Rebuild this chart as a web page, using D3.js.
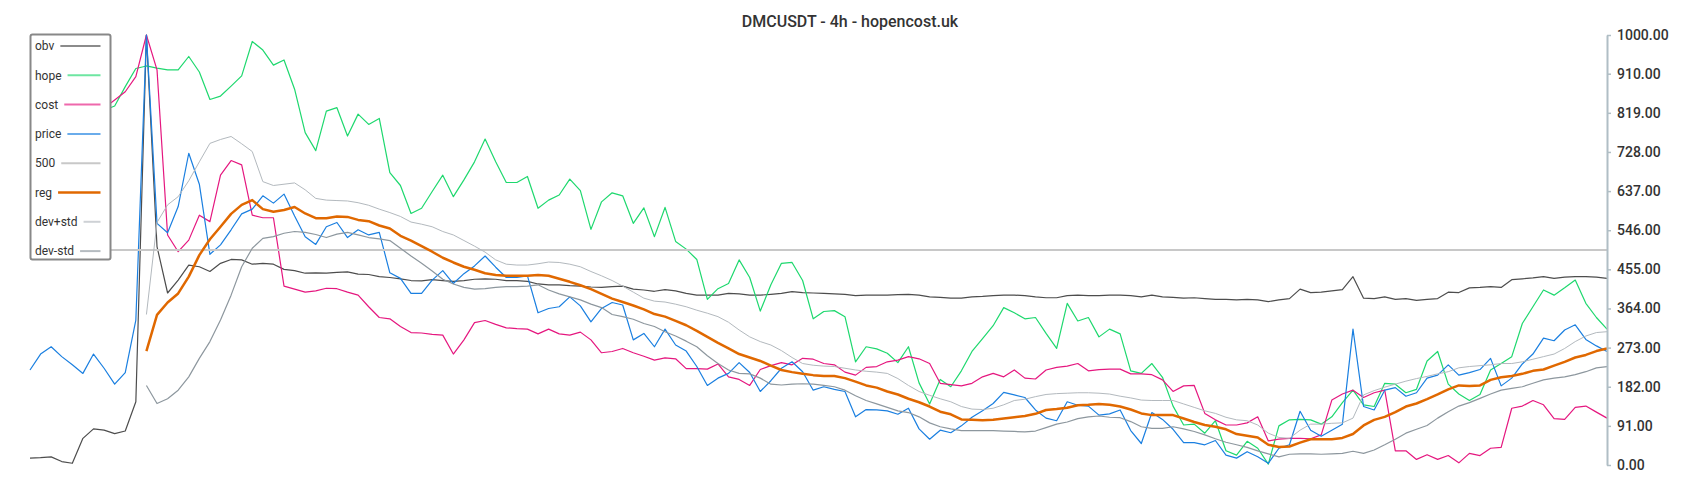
<!DOCTYPE html>
<html lang="en">
<head>
<meta charset="UTF-8">
<title>DMCUSDT - 4h - hopencost.uk</title>
<script src="https://cdn.jsdelivr.net/npm/d3@7/dist/d3.min.js"></script>
<style>
    body { margin: 0; background: #fff; }
    svg text { font-family: Roboto, "Noto Sans", sans-serif; fill: #333; }
</style>
</head>
<body>
<script>

    // ---- data (150 samples, 4h candles) ----
    const obv = [16, 17, 19, 8, 4, 62, 84, 81, 73, 79, 147, 1000, 508, 400, 430, 465, 461, 450, 469, 478, 477, 467, 469, 467, 455,
        452, 446, 447, 446, 448, 449, 444, 443, 438, 436, 433, 429, 428, 431, 429, 427, 429, 432, 433, 432, 429, 429, 427, 421,
        419, 419, 417, 416, 414, 413, 415, 416, 409, 407, 404, 408, 405, 399, 395, 395, 395, 399, 398, 395, 395, 397, 399, 403, 401,
        400, 399, 398, 397, 394, 395, 395, 395, 396, 397, 395, 391, 390, 388, 388, 391, 392, 394, 395, 395, 394, 391, 389, 389,
        394, 395, 394, 394, 395, 395, 394, 391, 395, 391, 390, 388, 389, 387, 385, 385, 384, 385, 384, 380, 384, 387, 409, 401, 402,
        405, 408, 438, 388, 387, 391, 385, 387, 383, 385, 387, 402, 401, 412, 413, 415, 413, 431, 433, 435, 438, 434, 437, 438, 438, 437, 434];

    const hope = [800, 805, 810, 815, 815, 820, 820, 825,
        835, 880, 922, 928, 923, 919, 919, 950, 914, 850, 858, 881, 905, 985, 965, 930, 942,
        874, 773, 731, 823, 831, 765, 816, 792, 806, 680, 650, 585, 597, 636, 674, 624, 663, 705, 758, 705, 657, 657, 671, 597,
        616, 628, 665, 638, 548, 612, 633, 626, 562, 598, 531, 599, 520, 502, 478, 385, 410, 422, 477, 436, 358, 419, 469, 471, 429,
        340, 357, 359, 345, 240, 275, 270, 260, 238, 275, 191, 142, 199, 182, 219, 264, 294, 324, 366, 354, 340, 343, 306, 271,
        376, 335, 343, 298, 316, 305, 219, 213, 236, 204, 137, 93, 95, 74, 103, 33, 23, 55, 39, 2, 91, 105, 106, 105, 95,
        112, 145, 174, 140, 136, 190, 188, 168, 176, 242, 264, 188, 165, 150, 164, 221, 236, 252, 329, 368, 407, 395, 412, 430, 376, 343, 316];

    const cost = [800, 805, 810, 815, 815, 820, 825, 830,
        849, 868, 903, 1000, 919, 535, 496, 523, 581, 566, 674, 708, 698, 581, 575, 575, 416,
        409, 402, 405, 411, 410, 402, 395, 368, 343, 340, 322, 308, 307, 304, 302, 258, 291, 331, 336, 327, 319, 317, 316, 305,
        316, 305, 302, 309, 291, 261, 264, 271, 261, 253, 244, 249, 247, 224, 224, 223, 235, 205, 199, 185, 222, 231, 238, 233, 248,
        246, 236, 233, 216, 209, 227, 229, 240, 244, 252, 247, 236, 190, 187, 184, 190, 205, 213, 205, 221, 202, 200, 221, 227,
        230, 236, 219, 222, 223, 223, 212, 212, 210, 198, 171, 184, 185, 120, 105, 93, 93, 98, 112, 56, 60, 62, 62, 61, 70,
        151, 165, 174, 157, 168, 174, 33, 33, 13, 24, 13, 22, 5, 27, 22, 39, 41, 132, 137, 150, 140, 108, 106, 134, 137, 123, 109];

    const price = [221, 258, 275, 252, 233, 213, 258, 225, 188, 215, 337, 1000, 562, 540, 601, 725, 653, 490, 512, 547, 584, 595, 626, 609, 630,
        579, 531, 513, 554, 564, 529, 547, 535, 541, 447, 434, 399, 399, 430, 452, 422, 445, 463, 486, 460, 436, 436, 440, 354,
        364, 368, 391, 370, 333, 364, 378, 372, 291, 306, 275, 316, 279, 265, 229, 185, 202, 213, 238, 215, 171, 196, 225, 240, 217,
        174, 182, 176, 171, 112, 129, 128, 126, 118, 132, 84, 60, 81, 75, 91, 111, 126, 143, 169, 163, 157, 128, 109, 103,
        147, 139, 137, 116, 119, 128, 80, 50, 122, 106, 83, 52, 52, 47, 57, 23, 16, 31, 19, 4, 39, 47, 125, 81, 67,
        81, 95, 316, 136, 128, 174, 180, 160, 168, 202, 209, 233, 209, 215, 222, 248, 184, 202, 235, 258, 295, 289, 314, 326, 292, 277, 264];

    const N = null;
    const reg = [N, N, N, N, N, N, N, N, N, N, N,
        265, 349, 378, 399, 438, 488, 525, 554, 584, 605, 616, 595, 589, 593,
        600, 585, 574, 574, 578, 577, 570, 567, 557, 550, 533, 522, 509, 496, 482, 471, 461, 454, 446, 442, 440, 440, 440, 442,
        440, 433, 426, 418, 409, 398, 387, 379, 371, 362, 351, 345, 335, 325, 312, 298, 284, 271, 258, 250, 242, 231, 221, 216, 212,
        209, 207, 207, 202, 194, 185, 180, 171, 164, 154, 146, 136, 124, 118, 106, 105, 104, 105, 108, 111, 114, 119, 128, 130,
        133, 139, 140, 142, 140, 136, 129, 120, 116, 116, 116, 108, 100, 93, 89, 83, 72, 68, 64, 47, 42, 43, 52, 60, 60,
        60, 63, 72, 92, 105, 112, 123, 136, 143, 153, 164, 176, 185, 184, 185, 198, 204, 207, 212, 219, 222, 231, 240, 250, 256, 265, 271];

    const devPlus = [N, N, N, N, N, N, N, N, N, N, N,
        350, 564, 605, 624, 661, 705, 748, 757, 764, 747, 729, 659, 650, 653,
        656, 640, 620, 616, 615, 614, 610, 604, 595, 587, 578, 565, 560, 554, 543, 535, 522, 509, 495, 477, 467, 465, 465, 468,
        472, 471, 467, 461, 450, 440, 429, 416, 402, 388, 381, 379, 374, 368, 360, 353, 345, 332, 314, 298, 287, 279, 266, 250, 236,
        232, 230, 229, 225, 221, 218, 216, 213, 201, 185, 171, 162, 154, 147, 136, 130, 129, 132, 140, 150, 153, 159, 164, 166,
        167, 168, 168, 167, 165, 160, 156, 151, 150, 150, 150, 142, 134, 126, 120, 111, 105, 103, 93, 74, 64, 62, 81, 95, 95,
        97, 98, 109, 163, 173, 181, 188, 195, 201, 206, 212, 217, 226, 229, 231, 233, 236, 236, 240, 246, 252, 258, 271, 287, 300, 308, 310];

    const devMinus = [N, N, N, N, N, N, N, N, N, N, N,
        185, 143, 154, 174, 205, 248, 287, 337, 395, 461, 504, 527, 531, 539,
        543, 541, 536, 529, 537, 541, 535, 529, 526, 522, 504, 486, 469, 451, 432, 421, 413, 409, 410, 413, 415, 415, 416, 419,
        407, 398, 391, 384, 374, 366, 350, 345, 339, 329, 322, 310, 300, 288, 275, 254, 236, 221, 213, 212, 202, 188, 186, 188, 189,
        188, 185, 182, 174, 161, 150, 142, 134, 126, 122, 112, 98, 89, 84, 80, 80, 80, 80, 79, 78, 77, 79, 87, 95,
        100, 108, 112, 114, 111, 110, 101, 89, 85, 85, 89, 84, 78, 70, 61, 53, 47, 41, 33, 26, 19, 25, 26, 26, 25,
        26, 27, 32, 27, 35, 47, 60, 74, 83, 92, 109, 124, 137, 145, 155, 165, 174, 178, 182, 190, 198, 202, 205, 210, 217, 226, 229];

    const level = 500;
    const yTicks = [0, 91, 182, 273, 364, 455, 546, 637, 728, 819, 910, 1000];
    const legendNames = ["obv", "hope", "cost", "price", "500", "reg", "dev+std", "dev-std"];
    const title = "DMCUSDT - 4h - hopencost.uk";

    // ---- look ----
    const colors = ["#4d4d4d", "#1ed86e", "#e5177f", "#1a7fe0", "#c8c8c8", "#e06800", "#b3b9be", "#8d979e"];
    const widths = [1.2, 1.2, 1.2, 1.2, 2, 2.5, 1, 1.2];

    const width = 1700, height = 500;
    const plotLeft = 30, plotRight = 1607, plotTop = 35, plotBottom = 465;

    const svg = d3.select("body").append("svg")
        .attr("width", width)
        .attr("height", height);

    const x = d3.scaleLinear().domain([0, price.length - 1]).range([plotLeft, plotRight]);
    const y = d3.scaleLinear().domain([0, 1000]).range([plotBottom, plotTop]);

    const line = d3.line()
        .defined(d => d != null)
        .x((d, i) => x(i))
        .y(d => y(d));

    const series = [obv, hope, cost, price, null, reg, devPlus, devMinus];

    series.forEach((s, k) => {
        if (s === null) {
            // horizontal 500 level
            svg.append("line")
                .attr("x1", plotLeft).attr("x2", plotRight)
                .attr("y1", y(level)).attr("y2", y(level))
                .attr("stroke", colors[k])
                .attr("stroke-width", widths[k]);
            return;
        }
        svg.append("path")
            .datum(s)
            .attr("fill", "none")
            .attr("stroke", colors[k])
            .attr("stroke-width", widths[k])
            .attr("stroke-linejoin", "round")
            .attr("d", line);
    });

    // right axis
    const axis = svg.append("g")
        .attr("transform", `translate(${plotRight},0)`)
        .call(d3.axisRight(y)
            .tickValues(yTicks)
            .tickFormat(d3.format(".2f"))
            .tickSize(4)
            .tickSizeOuter(0)
            .tickPadding(6));
    axis.select(".domain").attr("stroke", "#b0bec5").attr("stroke-width", 2);
    axis.selectAll(".tick line").attr("stroke", "#b0bec5").attr("stroke-width", 1.5);
    axis.selectAll(".tick text")
        .attr("fill", "#333")
        .style("font-family", "Roboto, sans-serif")
        .style("font-size", "14px")
        .style("font-weight", "500");

    // title
    svg.append("text")
        .attr("x", 850)
        .attr("y", 21)
        .attr("text-anchor", "middle")
        .attr("dominant-baseline", "central")
        .style("font-size", "16px")
        .style("font-weight", "500")
        .text(title);

    // legend box on top of the lines
    const lg = svg.append("g");
    lg.append("rect")
        .attr("x", 30.5).attr("y", 34.5)
        .attr("width", 80).attr("height", 225)
        .attr("rx", 2)
        .attr("fill", "#fff")
        .attr("stroke", "#888")
        .attr("stroke-width", 2);

    legendNames.forEach((name, k) => {
        const cy = 46 + k * 29.3;
        const t = lg.append("text")
            .attr("x", 35)
            .attr("y", cy)
            .attr("dy", "0.35em")
            .attr("fill", "#3a3a3a")
            .style("font-size", "12px")
            .text(name);
        const tw = t.node().getComputedTextLength();
        lg.append("line")
            .attr("x1", 35 + tw + 6).attr("x2", 100.5)
            .attr("y1", cy).attr("y2", cy)
            .attr("stroke", colors[k])
            .attr("stroke-opacity", k === 5 || k === 4 ? 1 : 0.65)
            .attr("stroke-width", k === 5 ? 2.5 : 2);
    });
</script>
</body>
</html>
